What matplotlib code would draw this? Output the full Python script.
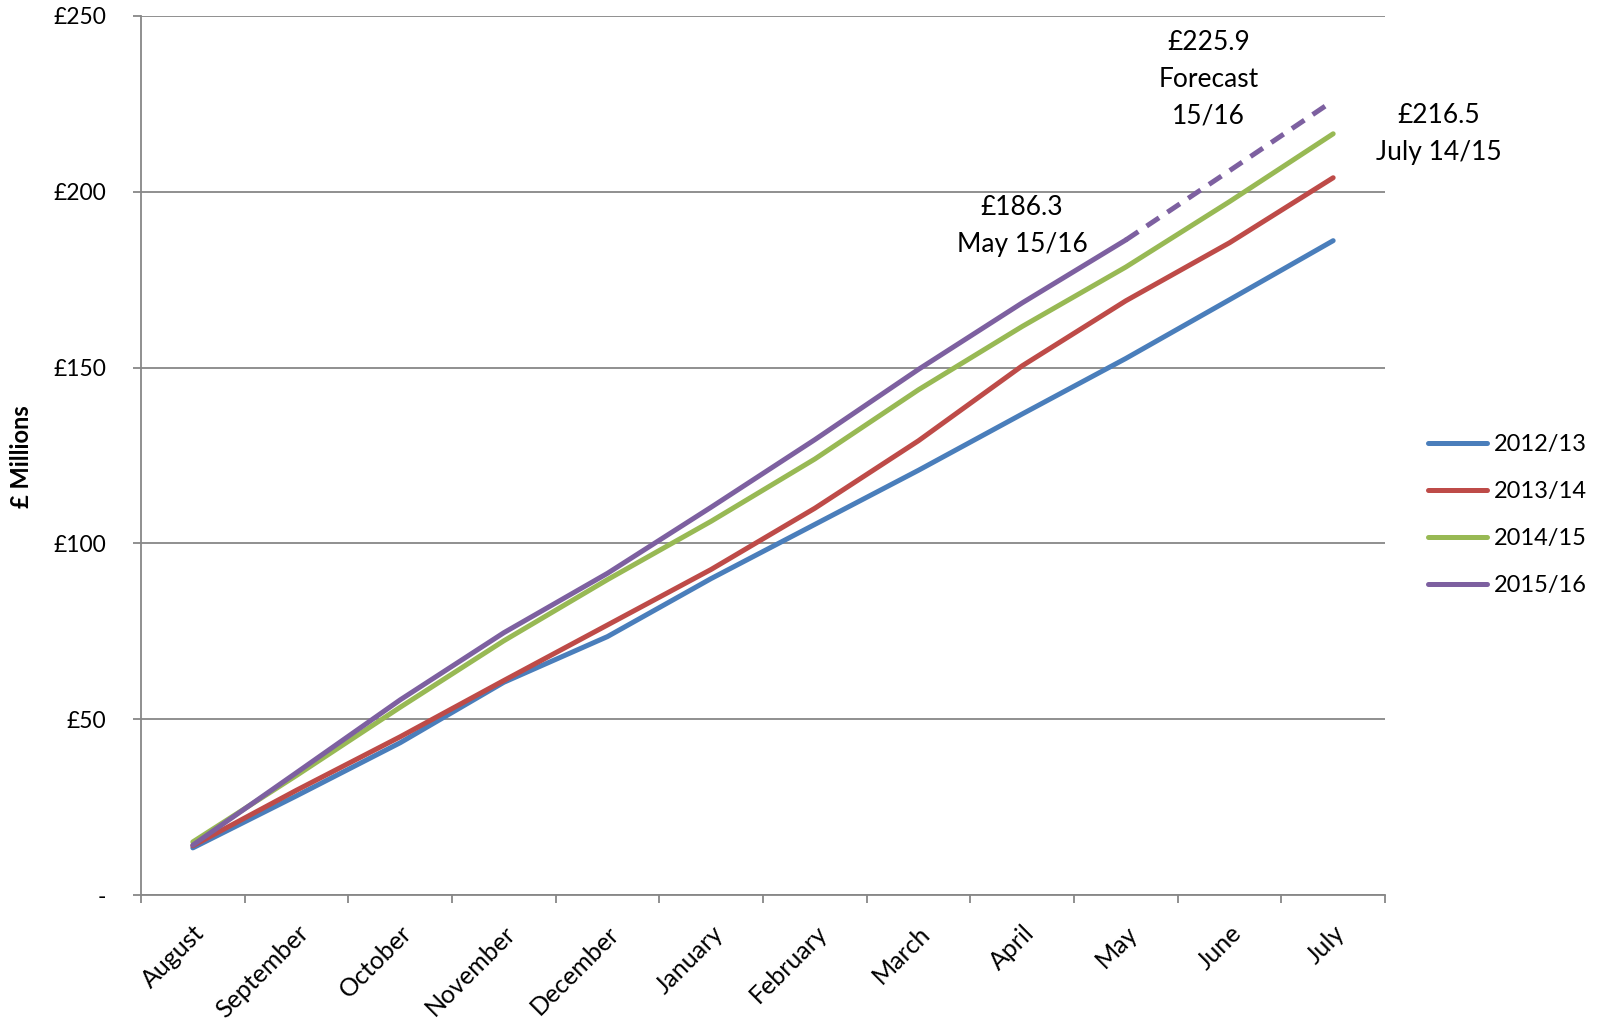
import matplotlib
matplotlib.use("Agg")
import matplotlib.pyplot as plt
from matplotlib.ticker import FixedLocator, FuncFormatter

plt.rcParams['font.family'] = ['Lato', 'DejaVu Sans']

months = ["August", "September", "October", "November", "December", "January",
          "February", "March", "April", "May", "June", "July"]

# cumulative totals, £ millions
y2012_13 = [13.4, 28.2, 43.3, 60.5, 73.5, 90.0, 105.4, 120.8, 136.8, 152.6, 169.3, 186.1]
y2013_14 = [14.0, 29.8, 45.0, 61.0, 76.8, 92.6, 110.0, 129.2, 150.5, 169.0, 185.5, 204.0]
y2014_15 = [15.1, 34.0, 53.4, 72.3, 89.7, 106.3, 124.0, 143.7, 161.7, 178.6, 197.2, 216.5]
y2015_16 = [14.2, 34.8, 55.5, 74.6, 91.5, 110.3, 129.5, 149.5, 168.4, 186.3]
forecast_15_16 = [186.3, 206.0, 225.9]

series = [("2012/13", y2012_13, "#4A7EBB"),
          ("2013/14", y2013_14, "#BE4B48"),
          ("2014/15", y2014_15, "#98B954"),
          ("2015/16", y2015_16, "#7D60A0")]

grid_col = "#878787"

fig = plt.figure(figsize=(16, 10.21), dpi=100)
ax = fig.add_axes([141 / 1600, 1 - 895 / 1021, 1244 / 1600, 879 / 1021])

x = list(range(len(months)))
for name, vals, col in series:
    ax.plot(x[:len(vals)], vals, color=col, lw=3.6, label=name,
            solid_capstyle='round', solid_joinstyle='round')

# forecast continuation for 2015/16
ax.plot(x[9:9 + len(forecast_15_16)], forecast_15_16, color="#7D60A0", lw=3.6,
        linestyle=(0, (3, 2)))

ax.set_xlim(-0.5, len(months) - 0.5)
ax.set_ylim(0, 250)

ax.set_yticks([0, 50, 100, 150, 200, 250])
ax.yaxis.set_major_formatter(FuncFormatter(lambda v, p: "-" if v == 0 else "£%d" % v))
ax.yaxis.grid(True, color=grid_col, lw=1.3)
ax.set_axisbelow(True)
ax.tick_params(axis='y', length=6, width=1.3, color=grid_col, pad=19, labelsize=16.5)

ax.set_xticks(x)
ax.set_xticklabels(months, rotation=45, ha='right', va='top', rotation_mode='anchor')
ax.xaxis.set_minor_locator(FixedLocator([i - 0.5 for i in range(len(months) + 1)]))
ax.tick_params(axis='x', which='major', length=0, pad=19, labelsize=18)
ax.tick_params(axis='x', which='minor', length=6, width=1.3, color=grid_col)

for s in ['top', 'right']:
    ax.spines[s].set_visible(False)
for s in ['left', 'bottom']:
    ax.spines[s].set_color(grid_col)
    ax.spines[s].set_linewidth(1.3)

fig.text(22 / 1600, 1 - 457 / 1021, "£ Millions", rotation=90, ha='center', va='center',
         fontsize=17, fontweight='bold')

# value call-outs
ax.text(9.80, 232, "£225.9\nForecast\n15/16", ha='center', va='center',
        fontsize=19, linespacing=1.6, clip_on=False)
ax.text(12.02, 216.5, "£216.5\nJuly 14/15", ha='center', va='center',
        fontsize=19, linespacing=1.6, clip_on=False)
ax.text(8.0, 190.4, "£186.3\nMay 15/16", ha='center', va='center',
        fontsize=19, linespacing=1.6, clip_on=False)

fig.legend(loc='center left', bbox_to_anchor=(1428 / 1600, 1 - 515 / 1021),
           frameon=False, fontsize=17, handlelength=2.5, handletextpad=0.3,
           labelspacing=1.1, borderpad=0, borderaxespad=0)

fig.savefig("out.png", dpi=100)
